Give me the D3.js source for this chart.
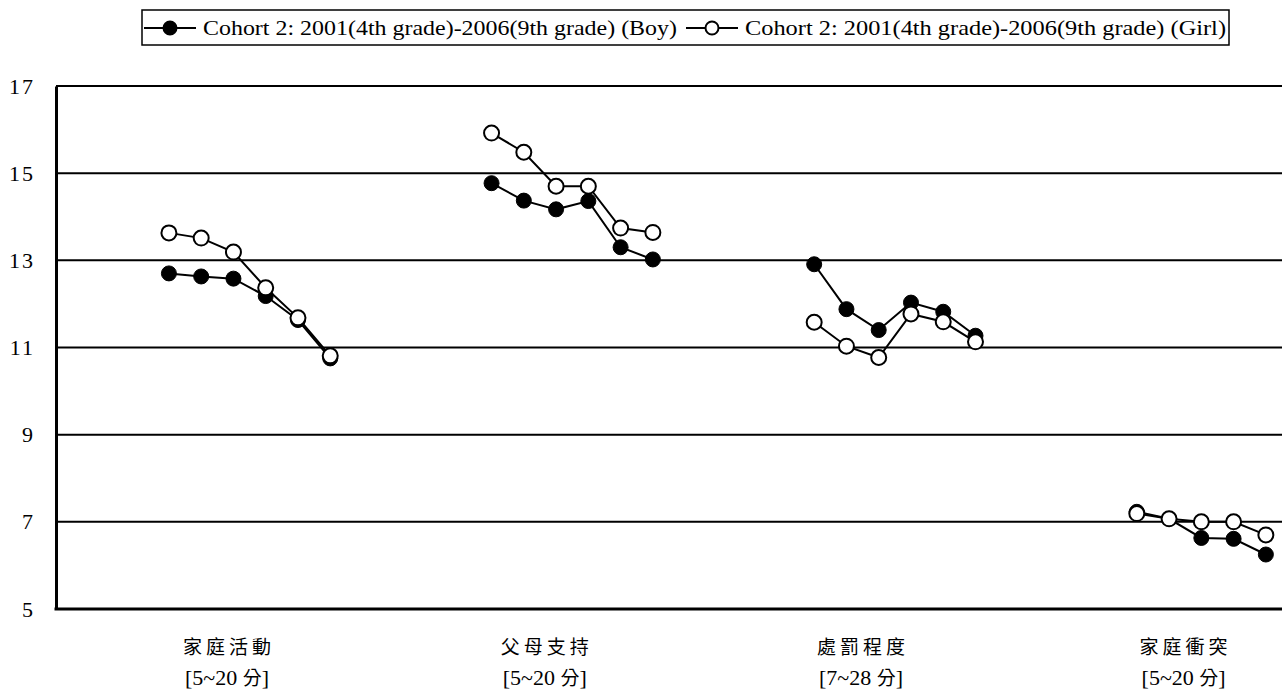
<!DOCTYPE html>
<html>
<head>
<meta charset="utf-8">
<script src="https://cdn.jsdelivr.net/npm/d3@7"></script>
<style>
  html, body { margin: 0; padding: 0; background: #fff; }
  svg { display: block; }
</style>
</head>
<body>
<svg id="chart" width="1284" height="693"></svg>
<script>
// ---- data ----
const groups = ["家庭活動", "父母支持", "處罰程度", "家庭衝突"];
const groupRanges = ["5~20", "5~20", "7~28", "5~20"];
const groupStart = [3, 13, 23, 33];        // slot index of first wave in each group
const labelSlot = [5.3, 15.15, 24.95, 34.95]; // slot position of each group label
const yTicks = [5, 7, 9, 11, 13, 15, 17];
const seriesNames = [
  "Cohort 2: 2001(4th grade)-2006(9th grade) (Boy)",
  "Cohort 2: 2001(4th grade)-2006(9th grade) (Girl)"
];
const boy = [
  [12.70, 12.63, 12.58, 12.18, 11.63, 10.75],
  [14.77, 14.37, 14.17, 14.36, 13.30, 13.02],
  [12.91, 11.88, 11.40, 12.03, 11.82, 11.27],
  [7.23, 7.07, 6.63, 6.61, 6.25]
];
const girl = [
  [13.63, 13.51, 13.19, 12.37, 11.68, 10.81],
  [15.92, 15.48, 14.70, 14.70, 13.74, 13.64],
  [11.58, 11.03, 10.77, 11.77, 11.59, 11.13],
  [7.19, 7.07, 7.00, 7.00, 6.70]
];

// ---- layout ----
const svg = d3.select("#chart");
const pLeft = 56, pRight = 1282, pTop = 86, pBottom = 609;
const nSlots = 38;
const x = d3.scaleLinear().domain([0, nSlots]).range([pLeft, pRight]);
const y = d3.scaleLinear().domain([5, 17]).range([pBottom, pTop]);

// gridlines
svg.append("g").selectAll("line")
  .data(yTicks.filter(t => t > 5))
  .join("line")
  .attr("x1", pLeft).attr("x2", pRight)
  .attr("y1", d => y(d)).attr("y2", d => y(d))
  .attr("stroke", "#000").attr("stroke-width", 2);

// y axis
const yAxis = d3.axisLeft(y).tickValues(yTicks).tickSize(0).tickPadding(21);
const ya = svg.append("g").attr("transform", `translate(${pLeft},0)`).call(yAxis);
ya.select(".domain").attr("stroke", "#000").attr("stroke-width", 3);
ya.selectAll("text")
  .attr("font-family", "'Liberation Serif', 'Times New Roman', serif")
  .attr("font-size", 22).attr("letter-spacing", 2).attr("fill", "#000");

// bottom axis line
svg.append("line")
  .attr("x1", pLeft - 1.5).attr("x2", pRight)
  .attr("y1", y(5)).attr("y2", y(5))
  .attr("stroke", "#000").attr("stroke-width", 3);

// x labels
const xl = svg.append("g").selectAll("g")
  .data(groups.map((g, i) => ({ name: g, range: groupRanges[i], pos: labelSlot[i] })))
  .join("g")
  .attr("transform", d => `translate(${x(d.pos)},0)`);
xl.append("text")
  .attr("x", 2).attr("y", 654).attr("text-anchor", "middle")
  .attr("font-family", "'Noto Sans CJK TC', sans-serif")
  .attr("font-size", 19).attr("letter-spacing", 4)
  .text(d => d.name);
const rt = xl.append("text")
  .attr("y", 685).attr("text-anchor", "middle")
  .attr("font-family", "'Liberation Serif', serif")
  .attr("font-size", 22);
rt.append("tspan").text(d => "[" + d.range + " ");
rt.append("tspan").attr("font-family", "'Noto Sans CJK TC', sans-serif").attr("font-size", 19).text("分");
rt.append("tspan").text("]");

// series
const line = d3.line().x(d => x(d.slot + 0.5)).y(d => y(d.v));
function toPts(series) {
  return series.map((vals, gi) => vals.map((v, k) => ({ slot: groupStart[gi] + k, v })));
}
function drawSeries(series, filled) {
  const pts = toPts(series);
  const g = svg.append("g");
  g.selectAll("path").data(pts).join("path")
    .attr("d", line).attr("fill", "none")
    .attr("stroke", "#000").attr("stroke-width", 2);
  g.selectAll("circle").data(pts.flat()).join("circle")
    .attr("cx", d => x(d.slot + 0.5)).attr("cy", d => y(d.v))
    .attr("r", 7.5)
    .attr("fill", filled ? "#000" : "#fff")
    .attr("stroke", "#000").attr("stroke-width", filled ? 1 : 2);
}
drawSeries(boy, true);
drawSeries(girl, false);

// legend
const lg = svg.append("g");
lg.append("rect").attr("x", 142).attr("y", 10).attr("width", 1087).attr("height", 35)
  .attr("fill", "#fff").attr("stroke", "#000").attr("stroke-width", 1.5);
const legItems = [
  { name: seriesNames[0], filled: true, x0: 144, w: 474 },
  { name: seriesNames[1], filled: false, x0: 686, w: 481 }
];
const li = lg.selectAll("g.item").data(legItems).join("g").attr("class", "item")
  .attr("transform", d => `translate(${d.x0},28)`);
li.append("line").attr("x1", 0).attr("x2", 52).attr("stroke", "#000").attr("stroke-width", 2);
li.append("circle").attr("cx", 26).attr("r", 6.5)
  .attr("fill", d => d.filled ? "#000" : "#fff").attr("stroke", "#000").attr("stroke-width", 2);
li.append("text").attr("x", 59).attr("y", 7)
  .attr("font-family", "'Liberation Serif', 'Times New Roman', serif")
  .attr("font-size", 22)
  .attr("textLength", d => d.w).attr("lengthAdjust", "spacingAndGlyphs")
  .text(d => d.name);
</script>
</body>
</html>
